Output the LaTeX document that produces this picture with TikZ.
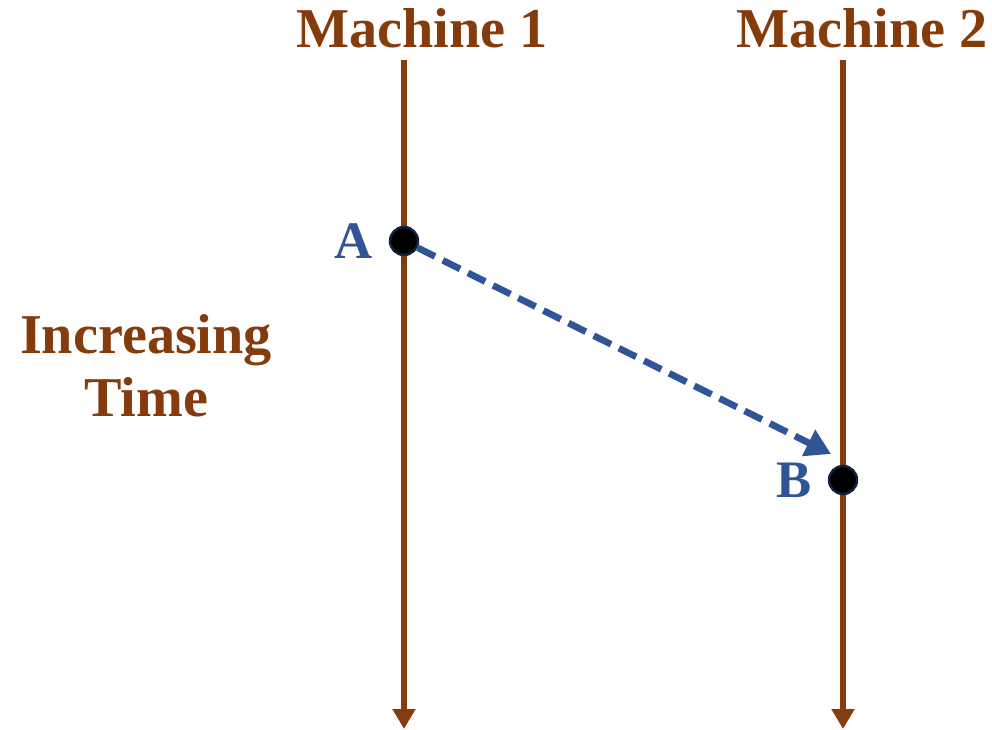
\documentclass[tikz,border=0pt]{standalone}
\usepackage{fontspec}
\setmainfont{Liberation Serif}
\usepackage{tikz}
\usetikzlibrary{positioning,arrows.meta}
\definecolor{TimeBrown}{HTML}{843C0C}
\definecolor{EventBlue}{HTML}{2F5597}

\begin{document}
\begin{tikzpicture}[
x=0.02cm, y=-0.02cm,
title/.style={font=\fontsize{32}{36}\selectfont\bfseries, text=TimeBrown},
label/.style={font=\fontsize{30}{34}\selectfont\bfseries, text=EventBlue},
timeline/.style={-{Triangle[length=4mm, width=4.4mm]}, line width=3.6pt, TimeBrown},
event/.style={circle, fill=black, draw=EventBlue!40!black, line width=1.4pt, minimum size=0.56cm, inner sep=0pt},
message/.style={-{Triangle[length=5mm, width=5.6mm]}, line width=3.8pt, EventBlue, dash pattern=on 11pt off 5pt}
]
\useasboundingbox (0,0) rectangle (992,730);
% machine time lines
\node[title] (m1) at (422,28) {Machine 1};
\node[title] (m2) at (862,28) {Machine 2};
\coordinate (top1) at (404,60);
\coordinate (bot1) at (404,729);
\coordinate (top2) at (843,60);
\coordinate (bot2) at (843,729);
\draw[timeline] (top1) -- (bot1);
\draw[timeline] (top2) -- (bot2);
% events
\node[event] (a) at (404,241) {};
\node[event] (b) at (843,480) {};
\node[label, left=0.2cm of a] (alab) {A};
\node[label, left=0.2cm of b] (blab) {B};
\coordinate (hit) at (831,454);
\draw[message] (a) -- (hit);
\node[title, align=center] (time) at (146,366) {Increasing\\Time};
\end{tikzpicture}
\end{document}
